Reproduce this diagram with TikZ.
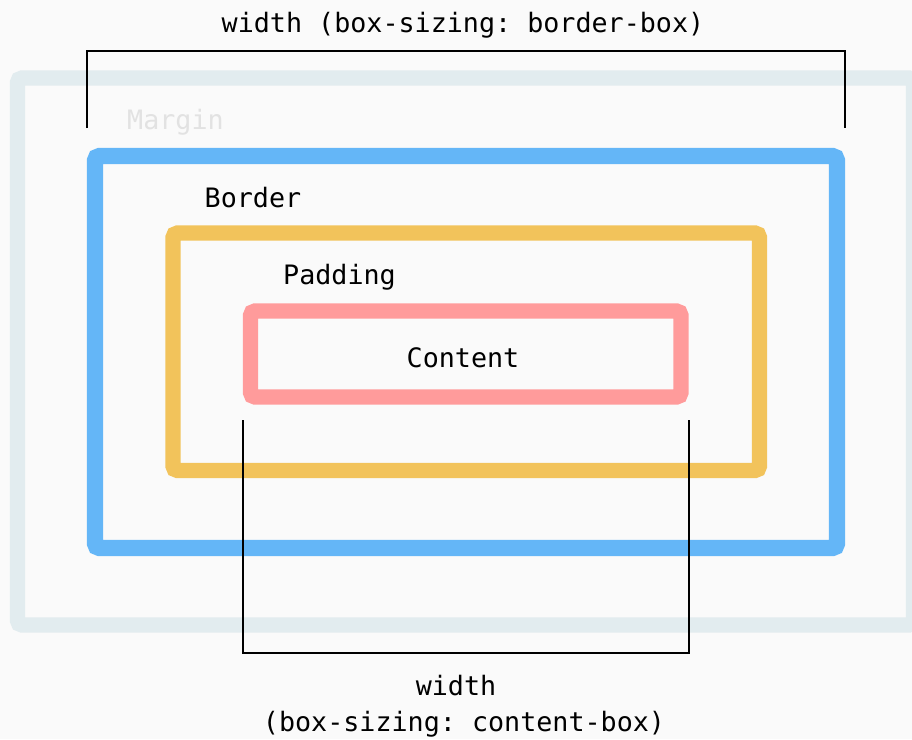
\documentclass[tikz,border=0pt]{standalone}
\usepackage{fontspec}
\setmonofont{DejaVu Sans Mono}
\usepackage{xcolor}
\usepackage{tikz}
\definecolor{bgc}{HTML}{FAFAFA}
\definecolor{marginc}{HTML}{E2ECEF}
\definecolor{margintxt}{HTML}{E2E2E2}
\definecolor{borderc}{HTML}{64B6F7}
\definecolor{paddingc}{HTML}{F2C35B}
\definecolor{contentc}{HTML}{FF9B9B}
\begin{document}
\begin{tikzpicture}[
        x=0.025cm, y=-0.025cm,
        frame/.style={draw, rectangle, rounded corners=3pt, inner sep=0pt, outer sep=0pt},
        label/.style={font=\ttfamily\fontsize{19}{23}\selectfont, inner sep=0pt, anchor=base, text=black},
        bracket/.style={draw=black, line width=1.3pt}
      ]
        \path[fill=bgc, use as bounding box] (0,0) rectangle (912,739);
        \clip (0,0) rectangle (912,739);
        \node[frame, draw=marginc, line width=10.7pt, minimum width=896*0.025cm, minimum height=547*0.025cm] (margin) at (465.5,351.5) {};
        \node[frame, draw=borderc, line width=11.4pt, minimum width=742*0.025cm, minimum height=392*0.025cm] (border) at (466,352) {};
        \node[frame, draw=paddingc, line width=10.7pt, minimum width=586.5*0.025cm, minimum height=237.5*0.025cm] (padding) at (466.25,351.75) {};
        \node[frame, draw=contentc, line width=10.7pt, minimum width=430.5*0.025cm, minimum height=86*0.025cm] (content) at (465.75,354) {};
        \node[label, text=margintxt] (marginlbl) at (175.5,129) {Margin};
        \node[label] (borderlbl) at (253,207) {Border};
        \node[label] (paddinglbl) at (339.5,284) {Padding};
        \node[label] (contentlbl) at (463,367) {Content};
        \node[label] (toplbl) at (463,32) {width (box-sizing: border-box)};
        \node[label] (botlbl) at (456,695) {width};
        \node[label] (botlbl2) at (464,731) {(box-sizing: content-box)};
        \coordinate (bbl) at (87,128);
        \coordinate (bbr) at (845,128);
        \coordinate (cbl) at (243,420);
        \coordinate (cbr) at (689,420);
        \draw[bracket] (bbl) -- ++(0,-77) -| (bbr);
        \draw[bracket] (cbl) -- ++(0,233) -| (cbr);
      \end{tikzpicture}
\end{document}
